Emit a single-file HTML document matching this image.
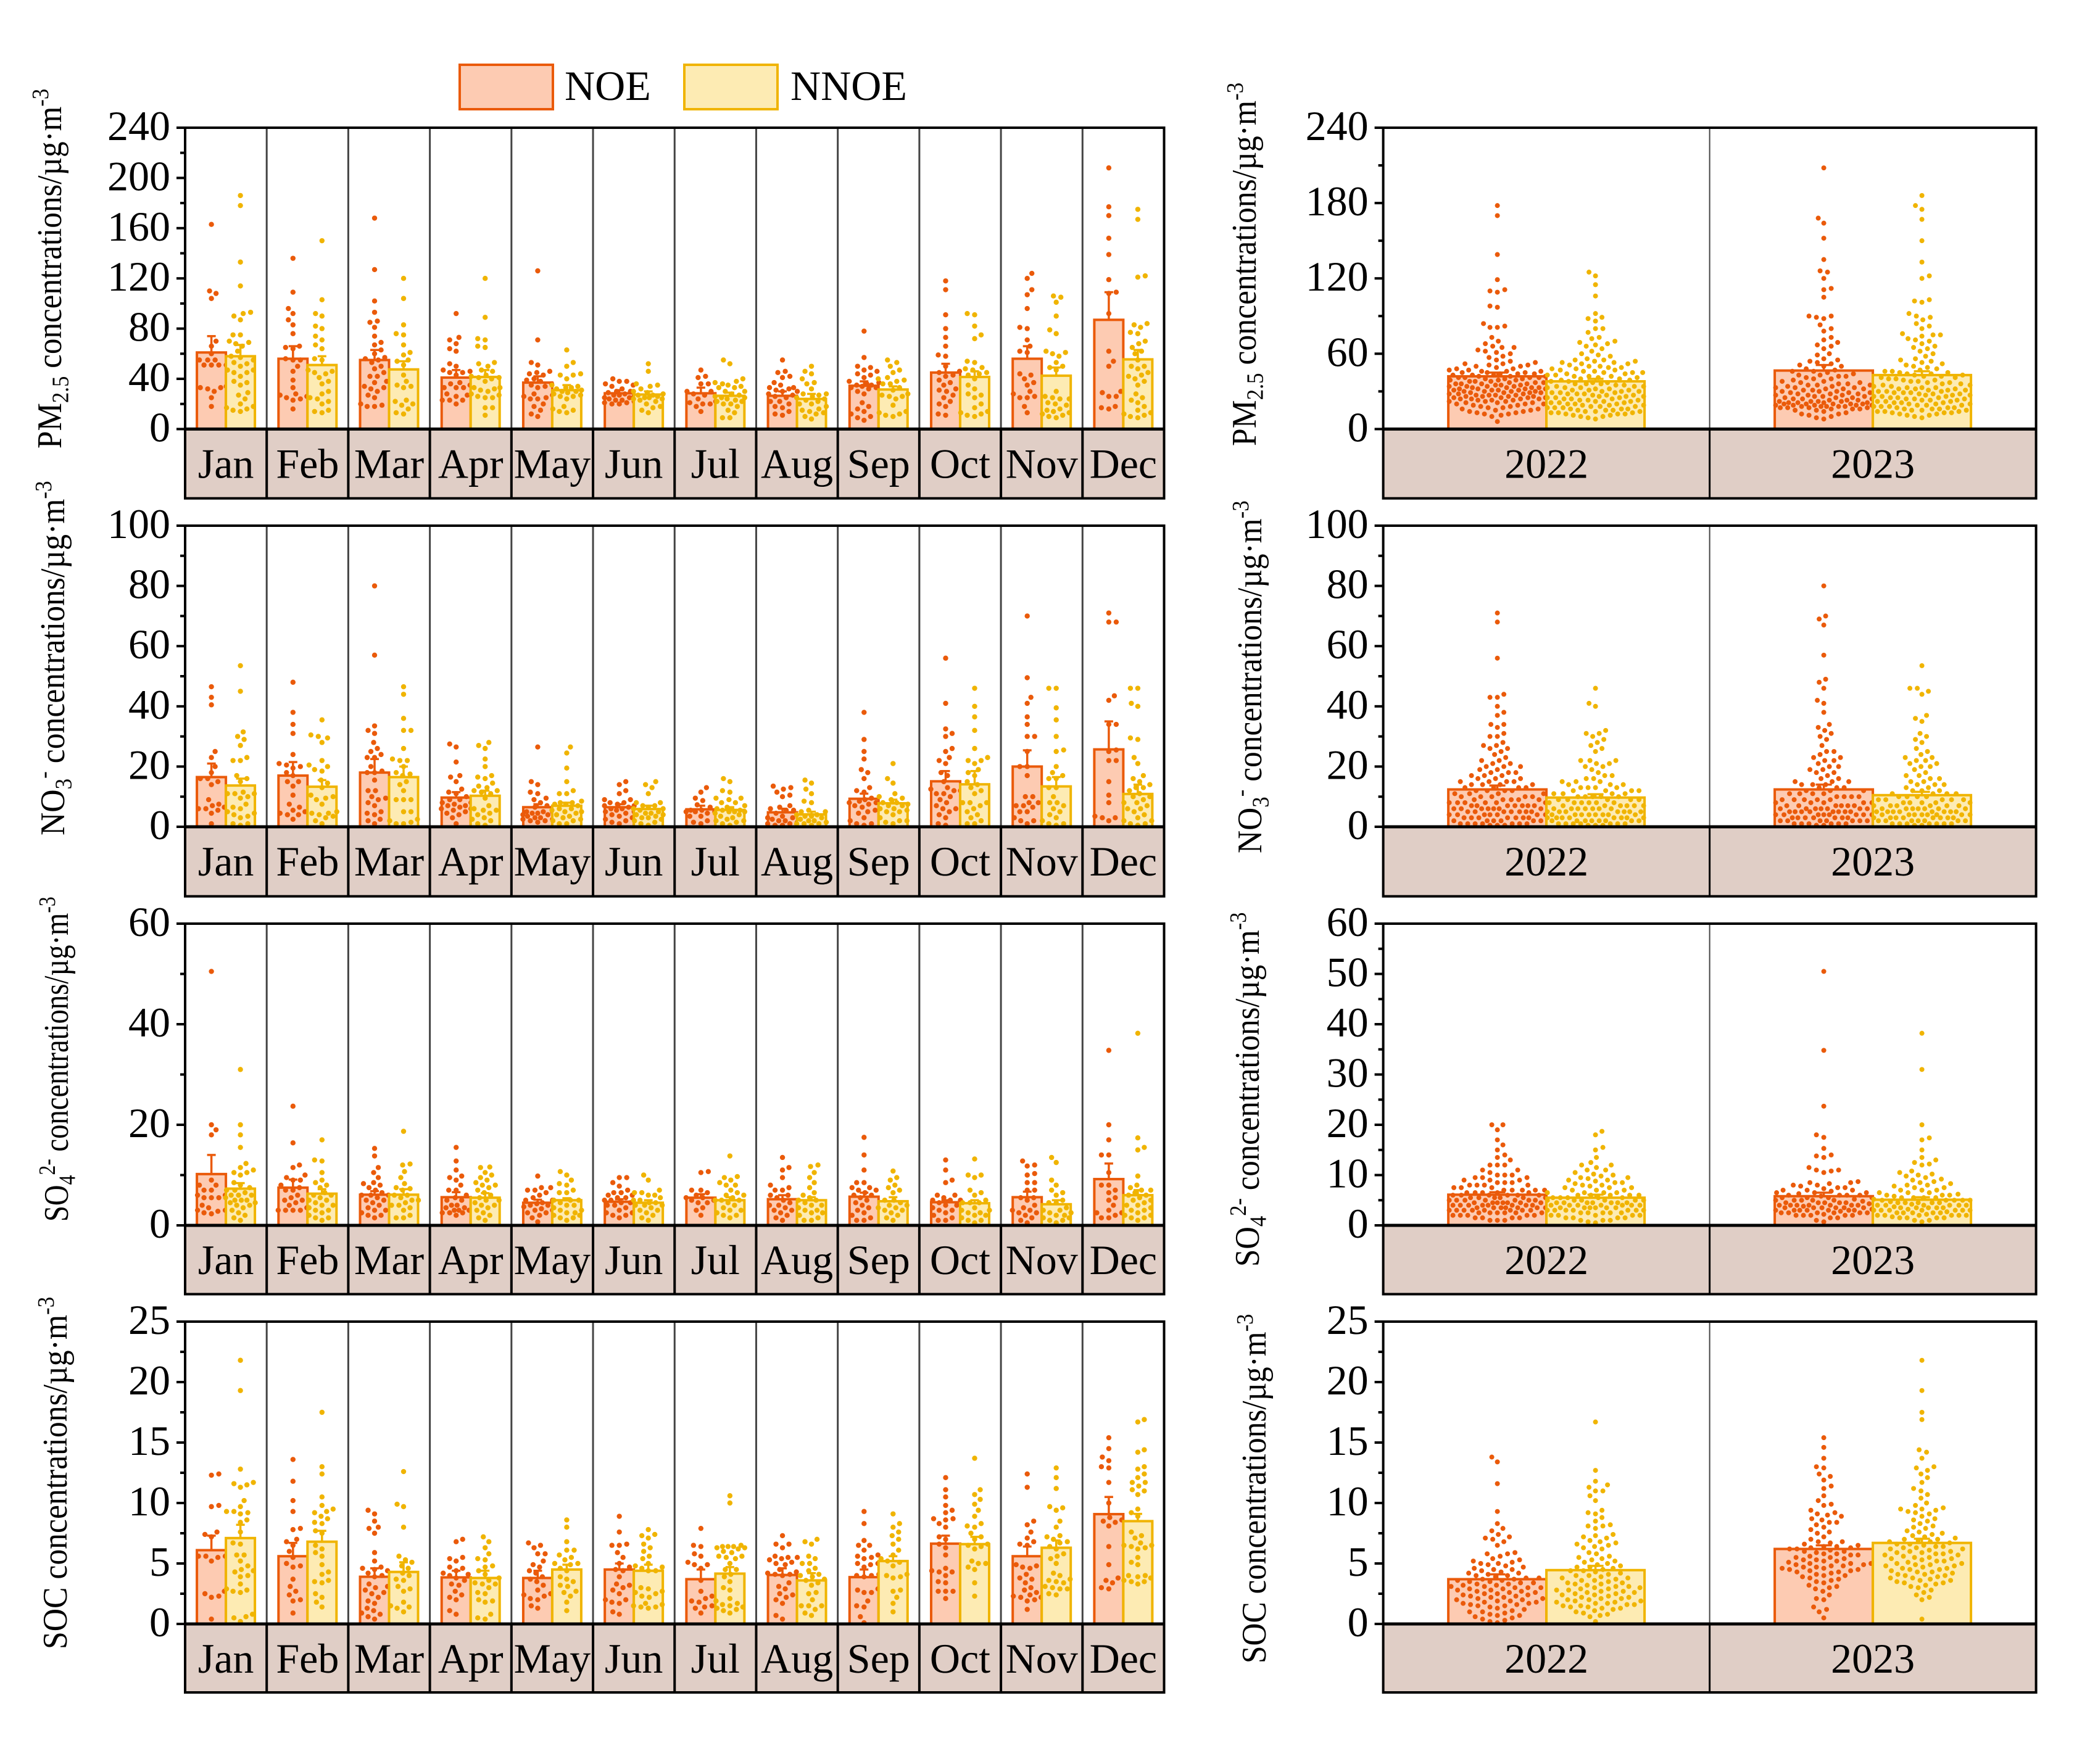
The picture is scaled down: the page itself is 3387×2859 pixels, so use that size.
<!DOCTYPE html>
<html lang="en">
<head>
<meta charset="utf-8">
<title>Concentrations by month and year</title>
<style>
html,body{margin:0;padding:0;background:#fff;}
svg{display:block;font-family:"Liberation Serif","DejaVu Serif",serif;}
.ytitle{font-size:53px;fill:#000;}
.leg{font-size:68px;fill:#000;}
</style>
</head>
<body>
<svg id="chart" xmlns="http://www.w3.org/2000/svg" width="3387" height="2859" viewBox="0 0 3387 2859">
<rect x="0" y="0" width="3387" height="2859" fill="#fff"/>
<g>
<rect x="745" y="105" width="151" height="72" fill="#fdcbb2" stroke="#ea5a0a" stroke-width="4"/>
<text class="leg" x="915" y="162">NOE</text>
<rect x="1109" y="105" width="151" height="72" fill="#fdebb3" stroke="#f0b400" stroke-width="4"/>
<text class="leg" x="1281" y="162">NNOE</text>
</g>
<text class="ytitle" transform="translate(99,727) rotate(-90) scale(.965,1.05)">PM<tspan font-size="36" dy="11">2.5</tspan><tspan dy="-11"> concentrations/µg·m</tspan><tspan font-size="36" dy="-20">-3</tspan></text>
<text class="ytitle" transform="translate(2035,723) rotate(-90) scale(.975,1.05)">PM<tspan font-size="36" dy="11">2.5</tspan><tspan dy="-11"> concentrations/µg·m</tspan><tspan font-size="36" dy="-20">-3</tspan></text>
<text class="ytitle" transform="translate(104,1354) rotate(-90) scale(.975,1.05)">NO<tspan font-size="36" dy="11">3</tspan><tspan font-size="36" dy="-31">-</tspan><tspan dy="20"> concentrations/µg·m</tspan><tspan font-size="36" dy="-20">-3</tspan></text>
<text class="ytitle" transform="translate(2044,1383) rotate(-90) scale(.97,1.05)">NO<tspan font-size="36" dy="11">3</tspan><tspan font-size="36" dy="-31">-</tspan><tspan dy="20"> concentrations/µg·m</tspan><tspan font-size="36" dy="-20">-3</tspan></text>
<text class="ytitle" transform="translate(110,1980) rotate(-90) scale(.88,1.05)">SO<tspan font-size="36" dy="11">4</tspan><tspan font-size="36" dy="-31">2-</tspan><tspan dy="20"> concentrations/µg·m</tspan><tspan font-size="36" dy="-20">-3</tspan></text>
<text class="ytitle" transform="translate(2040,2053) rotate(-90) scale(.96,1.05)">SO<tspan font-size="36" dy="11">4</tspan><tspan font-size="36" dy="-31">2-</tspan><tspan dy="20"> concentrations/µg·m</tspan><tspan font-size="36" dy="-20">-3</tspan></text>
<text class="ytitle" transform="translate(108,2673) rotate(-90) scale(.975,1.05)">SOC concentrations/µg·m<tspan font-size="36" dy="-20">-3</tspan></text>
<text class="ytitle" transform="translate(2051,2696) rotate(-90) scale(.967,1.05)">SOC concentrations/µg·m<tspan font-size="36" dy="-20">-3</tspan></text>
</svg>
<script>
const months=['Jan','Feb','Mar','Apr','May','Jun','Jul','Aug','Sep','Oct','Nov','Dec'];
const years=['2022','2023'];

// Axis ticks
const pm25MonthlyTicks=[0,40,80,120,160,200,240];
const pm25MonthlyMinor=[20,60,100,140,180,220];
const pm25YearlyTicks=[0,60,120,180,240];
const pm25YearlyMinor=[30,90,150,210];
const no3Ticks=[0,20,40,60,80,100];
const no3Minor=[10,30,50,70,90];
const so4MonthlyTicks=[0,20,40,60];
const so4MonthlyMinor=[10,30,50];
const so4YearlyTicks=[0,10,20,30,40,50,60];
const so4YearlyMinor=[5,15,25,35,45,55];
const socTicks=[0,5,10,15,20,25];
const socMinor=[2.5,7.5,12.5,17.5,22.5];

// Monthly bar means and upper error values
const pm25NoeMeans=[61,56,55,41,37,28.5,28.5,26.5,34.5,45,56,87];
const pm25NnoeMeans=[58,51,47.5,41.5,31,27.5,26.5,24,31.5,41.5,42.5,55.5];
const pm25NoeErr=[74,66,63,47,42,31,33,30,38,52,66,109];
const pm25NnoeErr=[67,58,54,47,35,30,29,28,34,46,49,63];
const no3NoeMeans=[16.5,17,18,9.7,6.5,6.5,5.8,4.8,9.3,15.1,20,25.7];
const no3NnoeMeans=[13.7,13.3,16.5,10.3,7,5.9,5.6,4.1,7.8,14.1,13.4,10.9];
const no3NoeErr=[21,21.5,22.5,11.5,7.5,7.5,7,6,11,18.5,25.4,35];
const no3NnoeErr=[16,15.5,20,12,8,7,6.5,5,9,18.5,16.5,14];
const so4NoeMeans=[10.2,7.5,6.1,5.6,4.5,4.7,5.5,5.2,5.7,4.6,5.6,9.2];
const so4NnoeMeans=[7.3,6.3,6.1,5.5,5,4.5,5,5,4.8,4.4,4.2,6];
const so4NoeErr=[14,9.1,6.8,6.6,5.1,5.2,6.2,6,6.5,5,6.7,12.3];
const so4NnoeErr=[8.4,7.2,7.2,6.4,5.4,5,5.6,5.6,5.6,5,5,7];
const socNoeMeans=[6.1,5.6,3.9,3.85,3.8,4.5,3.7,4.05,3.87,6.64,5.6,9.08];
const socNnoeMeans=[7.1,6.8,4.3,3.8,4.5,4.4,4.16,3.6,5.2,6.6,6.3,8.5];
const socNoeErr=[7.3,6.7,4.6,4.4,4.4,5,4.5,4.6,4.5,7.3,6.4,10.5];
const socNnoeErr=[8.2,7.7,5.1,4.4,4.9,4.9,4.7,4.2,5.6,7.2,6.9,9.1];

// Yearly bar means and upper error values
const pm25YearNoeMeans=[42,46.6];
const pm25YearNnoeMeans=[38,43];
const pm25YearNoeErr=[45,51];
const pm25YearNnoeErr=[40,46];
const no3YearNoeMeans=[12.4,12.4];
const no3YearNnoeMeans=[9.7,10.5];
const no3YearNoeErr=[13.7,14];
const no3YearNnoeErr=[10.8,11.6];
const so4YearNoeMeans=[6.1,5.8];
const so4YearNnoeMeans=[5.5,5.1];
const so4YearNoeErr=[6.6,6.5];
const so4YearNnoeErr=[6.1,5.6];
const socYearNoeMeans=[3.7,6.2];
const socYearNnoeMeans=[4.45,6.7];
const socYearNoeErr=[4.1,6.5];
const socYearNnoeErr=[4.8,7.05];

// Monthly scatter values
const pm25NoePoints=[
[163,110,108,104,70,66,60,55,55,55,51,51,51,51,34,33,33,32,30,25,18],
[136,109,96,92,87,83,76,66,65,64,56,55,55,50,46,39,33,28,27,26,25,24,23,16],
[168,127,102,93,86,85,81,74,69,67,63,60,57,56,55,53,50,48,45,42,42,38,37,34,33,32,30,27,25,20,19,18,18],
[92,73,71,68,64,62,52,50,47,46,45,45,43,37,36,35,33,33,33,28,27,26,23,23,23,20],
[126,71,53,51,46,45,44,43,40,39,38,36,35,34,33,28,27,26,25,24,24,20,18,15,12,10],
[40,38,38,36,35,34,32,30,30,29,28,27,27,26,25,25,24,23,23,22,21,21,20,20],
[47,42,41,36,36,30,30,28,27,24,22,21,20,20,18,14],
[55,46,45,42,41,37,35,33,33,32,31,30,30,28,27,26,25,22,22,20,18,17,14,12,11],
[78,57,50,49,47,46,44,43,41,38,37,36,35,35,34,33,33,32,30,28,21,18,16,14,12,10,9,7],
[118,111,91,80,73,66,59,58,50,46,45,43,42,39,37,35,32,31,30,27,25,22,20,18,12,11],
[124,120,111,107,96,81,80,71,66,62,61,44,43,40,37,35,30,28,26,25,25,18,13],
[208,177,170,152,139,119,108,109,92,62,54,50,30,29,26,18,17,16,26]];
const pm25NnoePoints=[
[186,178,133,114,93,92,90,87,75,75,70,69,68,66,62,58,57,55,53,52,50,47,47,45,45,42,38,37,35,29,27,24,20,18,17,16,15,14],
[150,103,92,90,82,80,74,71,67,64,56,55,47,46,45,44,41,38,36,30,28,25,24,22,20,15,14,13],
[120,104,83,76,75,67,61,59,55,54,51,43,38,35,34,33,23,22,20,19,16,13,12],
[120,89,72,71,66,65,53,52,50,47,46,43,42,41,41,40,38,33,33,32,31,30,28,27,26,25,25,17,17,11],
[63,53,50,44,43,43,40,35,34,33,33,32,31,30,30,29,28,27,26,26,24,18,16,15,14,13],
[52,46,36,35,34,32,30,29,28,27,27,26,25,25,24,24,23,22,20,18,17,15,13],
[55,52,40,38,37,36,35,34,33,33,30,30,28,27,26,25,25,24,23,22,22,20,20,18,15,13,9,9],
[50,46,44,40,37,36,32,28,28,27,26,25,24,23,22,20,20,18,16,15,14,13,12,10,8],
[55,53,50,47,45,41,40,39,38,36,36,33,31,28,27,26,26,24,19,14,13,12,11,10],
[92,91,82,75,72,54,53,49,48,47,45,44,43,40,35,32,28,27,25,20,17,14,13,12,11,10],
[106,105,101,90,79,76,62,61,60,58,53,50,49,47,30,25,26,24,24,21,20,19,16,15,14,13,12,11,10,9],
[175,167,122,121,84,83,81,77,76,70,68,65,62,60,55,50,50,48,45,43,42,40,38,35,28,25,23,21,18,15,13,12,11,10,9]];
const no3NoePoints=[
[46.5,43,40.5,25,23,20,18,16,16,15,14,9,7.5,7,6.5,6,6,5.5,4.5,1],
[48,38,34,31,24,21,20.5,20,19.5,18,17,15,15,13.5,10.5,7.5,6.5,5.5,5,4.5,4,4,2.5],
[80,57,33.5,32,31,28,26,25,24,23,23,20,18.5,18,18,15.5,12,12,10,9.5,9,8,7,5,4.5,4,2.5,2,1],
[27.5,26.5,21.5,17,16.5,15,12.5,11.5,11,10,9,9,8,8,7.5,7,7,6.5,6,6,5.5,5,4.5,4,3,1],
[26.5,15,14,11.5,11,9.5,9,8,7,6.5,5,5,5,4.5,4.5,4,4,3.5,3,3,2.5,2.5,2,2,1.5],
[15,14,12,11,9,9,8,8,7.5,7,7,6.5,6,6,5.5,5,5,4.5,4,3.5,3,2.5,2,1.5,1],
[13,11.5,9.5,8.7,7.3,6.5,5.5,5.5,5,5,4.5,5,3.5,3.5,2,1.5,1],
[13.5,13,12.5,11.5,10.5,10,7,6.5,6,5.5,5.5,4.5,3.5,3,3,2.5,2,2,1.5,1,1,0.5,0.5],
[38,29,25,22.5,19,18,16,13,12,11.5,9.5,9,8.5,8,8,7.5,7,6.5,5.5,5,4.5,3,2,1,1,0.5],
[56,41,32.5,31,30,26,25,23,22,21,18,17,15,13,12.5,12,12,11,11,10,9,8,7,6,6,5,4,3,1,0.5],
[70,49.5,43,41,36.5,34,30,30,25,20,20,17,10,10,8,8,7,7,6.5,5,5,3,2,2,1],
[71,68,68,43.5,42,34,34,25.5,25,22,22,15,10.5,8,3.5,3,3,2]];
const no3NnoePoints=[
[53.5,45,31.5,30,29,27,23,22,22,17,16,15,11.5,11,11,11,10,9.5,7.5,6.5,6,5,4.5,4,3.5,3,1,1,0.5],
[35.5,30.5,30,29.5,28,22,20.5,20,19,18.5,15.5,14.5,13,10.5,10,9.5,9,7.5,5,4.5,4.5,4,3.5,3,2,1],
[46.5,44,36,32,32,26,22.5,22,22,20,18,17.5,17,15,14,12,9,9,9,5,5,2.5,2,1.5,1,1],
[28,27,26,22.5,20,17,16.5,16,14.5,13.5,13,12,12,11.5,11,9.5,7,6,5.5,5.5,4.5,4,3,2.5,2,1,0.5],
[26.5,24.5,19.5,15,12,11,11,8.5,8,8,7.5,7.5,7,6,6,5.5,5,5,4.5,4,3.5,3,2.5,2,2,1,1],
[15,14,13,11,8,8,7,7,6.5,6,6,5.5,5,4.5,4.5,4,4,3.5,3,3,2.5,2,1.5,1,0.5],
[16,15,12,11.5,9.5,9.5,9,8,8,7,6.5,6,6,5.5,5.5,5,5,5,4.5,4,3.5,3,2.5,2,2,1.5,1,0.5],
[15.5,14.5,12.5,11,8.5,8,5.5,5,5,4,4,3.5,3.5,3,2.5,2,2,1.5,1,1,1,0.5],
[21,16,14.5,11,10,9.5,9,8,8,7.5,7,7,6,6,5.5,5,5,4,3,2,2,1.5,1],
[46,40,36.5,32,26,23,22,22,21,19,18,17,15,14,13,12,11,8,8,8,7,6,5,4,3,2,1,1],
[46,46,39.5,35.5,30,25.5,25,20,18,17,16,16,13,13,10,8,8,7,6,5,4,3,2,1,1,0.5],
[46,46,41,40,29.5,29,23,21,17,16,15,14,13,13,12,11,10,10,9,8,8,7,6,6,5,4,3,2,2,1,1,0.5]];
const so4NoePoints=[
[50.5,20,19,18,9,8,8,7,7,6,6,5.5,5.5,5.5,4,3.5,3,3,2.8,2.5,2.3],
[23.7,16.4,12,11.5,10,9.5,9,9,8,7.5,7,7,6,5.5,5,5,4.5,4,3.5,3,3,3,3],
[15.3,13.8,11.5,10.5,9.5,8.5,8.3,8,7.5,7,6.5,6,6,6,5.5,5,5,4.5,4,3.5,3,3,2.5,2,2,1.5],
[15.5,12.8,11,9.8,9.5,9,8,7,7,6,5.5,5,5,4,4,3.5,3.5,3,3,3,2.5,2.5,2.5,2],
[9.8,7.5,7.5,7,7,6.5,6,5.5,5,5,4.5,4.3,4,4,3.7,3.3,3,3,2.5,2.5,2,1.5,0.7],
[9.5,9.5,8.5,7.8,7,6.5,6.5,6,6,5.5,5.5,5,5,4.5,4.5,4,4,3.5,3,2.5,2.5,2,2,1.5],
[10.7,10.5,7,7,6.5,6,5.5,5.5,5,5,4.5,4.5,3.5,3,2],
[13.5,11.5,11,9.5,8,7.5,7,7,6,6,5.5,5,4.5,4,4,3.5,3,3,2.5,2,1.5,1],
[17.5,14,11,8.5,8.5,7.5,7.5,7,7,6.5,6,6,5.5,5,4.5,4,3.5,3,2.5,2,1.5,1,1],
[13,11,9,8.5,6,6,5.5,5,5,5,4.5,4,4,3.5,3,3,2.5,2,1.5,1,1],
[12.8,12,11.8,10.3,10,8.5,8.5,7,7,5.5,5.5,5,4,3.5,3,3,2.5,2.5,2,1.5,1,0.5],
[34.8,20,17,14,14,10.5,8,8,7,6.5,5.5,5,4,3,2.5,2.5,2,1.5,1.5]];
const so4NnoePoints=[
[31,20,18,15.5,12.3,11.5,11,10.5,10.5,10,8.5,8,7.5,7,7,6.5,6,6,6,5.5,5,5,5,4.5,4.5,4,4,3.5,3,2.5,2,1.5,1],
[17,13,12.8,10.5,9,8.5,8,7.5,6.5,6,6,5.5,5,5,4.5,4,4,3.5,3,3,2.5,2,1.5,1.5,1],
[18.7,12.2,12,10.7,9.5,8.3,7.5,7.3,7,6,6,5.5,5,5,4.5,4,4,3.5,3,2,1.5,1.5],
[11.6,11.5,10.5,10,9.5,9,8.5,8,8,7.5,7,6.5,6,5.5,5,5,4.5,4,4,3.5,3,2.5,2,1.5,1],
[10.7,10,9,8.3,8,7,6.5,6.5,5,5,5,4.5,4,4,3.5,3,3,2.5,2.5,2,2,1.5,1.5,1],
[10,9,7,6.5,6.5,6,6,5.5,5,5,4.5,4.5,4,4,4,3.5,3,3,2.5,2,1.5,1],
[13.8,9.7,9.5,9,8.5,8,8,7,6.5,6,6,5.5,5,5,5,4.5,4,3.5,3,3,2.5,2,2,1.5],
[12,11.7,10.5,9.5,8.5,7.5,6.5,6,5.5,5,5,4.5,4,4,3.5,3,3,2.5,2.5,2,1.5,1,1],
[10.8,9.5,9,8,7.5,7,6.5,5,5,4.5,4,4,3.5,3.5,3,3,2.5,2,1.5,1],
[13.2,10,10,9.5,7,6.5,6,5,4.5,4.5,4.5,3.5,3,3,2.5,2.5,2,2,1.5,1,1,0.5],
[13.5,12.5,9,8,7,6.5,6,5,4.5,4.5,3.5,3,3,2.5,2.5,2,2,1.5,1.5,1,1,0.5],
[38.2,17.4,15.5,15,9.8,8,7.5,7,7,6.5,6,6,5.5,5,5,4.5,4,4,3.5,3,3,2.5,2,2,1.5,1.5,1]];
const socNoePoints=[
[12.4,12.3,9.8,9.7,7.6,7.4,7.2,5.6,5.6,5.6,5.5,5.2,2.7,2.5,2.3,2.2,0.4],
[13.6,11.8,10.2,9.3,7.9,7.8,7,6.8,6.5,6,5.5,5,4.8,4.7,3.7,3.1,2.7,2.4,2,1.9,0.9],
[9.4,9.1,8.5,8,7.9,7.5,5.9,5.2,4.7,4.6,4.5,4.4,4.2,4,3.9,3.3,3.1,3,2.8,2.6,2.5,2.2,1.9,1.7,1.3,1.1,0.9,0.8,0.6,0.4],
[7,6.8,5.5,5.4,5.2,4.7,4.6,4.4,4.2,4.1,4,3.8,3.6,3.3,3.2,2.7,2.4,2.2,2,1.1,0.8],
[6.7,6.5,6.3,5.8,5.8,5.2,4.9,4.7,4.4,4.2,3.9,3.7,3.5,3.2,2.8,2.5,2.4,2.3,2.1,2,1.5,1.3],
[8.9,7.6,6.6,6.5,6.5,5.9,5.5,5,4.7,4.5,4.4,3.9,3.3,3.2,3,2.8,2.5,2,2,1.8,1.7,1,0.8],
[7.9,6.5,6.4,5.8,5.6,5.1,4.9,4.9,4.6,3.6,2.7,2.3,2.1,1.9,1.8,1.5,1.4,1.3,0.9],
[7.3,6.6,6.6,6.3,5.6,5.5,5.5,5.4,5.3,5.1,5,4.9,4.5,4.3,4.2,4.1,4.1,4,3.4,3.1,2.9,2.5,2.4,2.2,2,1.7,0.7,0.4],
[9.3,8.3,6.9,6.5,6.5,6.1,5.7,5.6,5.5,5.4,5,5,4.9,4.7,4.1,4,4,3.9,2.9,2.8,2.6,2.6,1.9,1.5,1.4,0.6,0.1],
[12.1,11.1,10.5,9.8,9.4,9.2,8.7,8.7,8.6,8.3,8,7.2,7,6.6,6.3,5.7,4.6,4.4,4.3,4.3,4,3.5,3.4,2.7,2.7,2.7,2.1],
[12.4,11.3,8.5,8.2,7.6,7.1,6.8,6.6,6.5,4.9,4.8,4.7,4.6,4.1,3.8,3.7,3.4,3,2.8,2.6,2.4,2.3,2.2,2.2,2,1.9,1.2],
[15.4,14.5,13.8,13.5,13,12.9,11.7,10,8.8,8.6,8.5,8.4,8.1,6.4,4.9,3.8,3.6,3.4,3,2.9]];
const socNnoePoints=[
[21.8,19.3,12.8,11.7,11.6,11.5,11.3,10.2,9.7,9.3,9.3,9.2,9.1,8.6,8.4,7.6,6.7,6.6,5.7,5.7,5.2,4.8,4.5,4.4,4.3,4,3.9,3.3,2.9,2.8,2.7,2.6,0.8,0.6,0.5,0.2],
[17.5,13,12.4,10.5,9.8,9.5,9.3,9.2,8.9,8.7,8.4,8.3,7.7,7.5,6.5,6.2,5.9,5.6,4.9,4.3,4.1,3.6,3.5,3.4,2.5,2.2,1.8,1.4],
[12.6,9.9,9.7,8,5.6,5.3,5.1,4.8,4.6,4.2,4,3.7,3.6,3.1,2.9,2.7,1.8,1.5,1.4,1.3,1],
[7.2,6.8,6.3,5.8,5.4,5.3,4.8,4.7,4.4,4.1,3.8,3.6,3.4,3.3,3.3,3,2.6,2.5,2,1.9,1.8,0.8,0.5,0.4],
[8.6,8,6.8,6.1,6.1,5.7,5.5,5.3,5,5,4.9,4.6,4.4,3.9,3.7,3.5,3.2,3.1,2.7,2.6,2.3,1.8,1.1],
[7.8,7.4,7.3,7.1,6.6,6.3,6,5.6,5.4,5,4.8,4.7,4.6,4.4,4.4,3,2.9,2.7,2.6,2.5,2.3,2.2,1.7,1.6,1.5,1.4,1.4,1.3],
[10.6,10,6.5,6.4,6.4,6.4,6.3,6.3,6.2,6,5.9,5.6,5.6,5.5,5.4,5,4.5,4.5,4.1,3.9,3.5,3,2.8,2.1,1.9,1.7,1.6,1.5,1.4,1.3,1.2,1.1,0.9],
[7,6.8,6.6,5.6,5.4,5,5,4.6,4.4,4.1,4,3.9,3.7,3.6,3.4,3.2,2.6,2.5,2,1.5,1.5,1.5,1.2,0.9,0.7],
[9.1,8.3,8,7.6,7.3,7,6.6,6.1,5.7,5.4,5.2,5.1,4.8,4.1,4,3.9,3.8,2.8,2.7,2.2,1.7,1],
[13.7,11.1,10.7,10.3,9.9,9.4,8.9,8.3,8.1,8,7.5,7.2,7,6.6,6.5,6.4,6.2,5.2,5,5,4.7,4.5,3.4,2.3],
[12.9,12.1,11.2,9.7,9.6,9.4,8.5,8,7.3,7.2,7,6.8,6.7,6.4,6.2,5.8,5.6,5.4,5,4.2,4,3.7,3.6,3.5,3.4,3.1,3,2.9,2.9,2.5,2.4],
[16.9,16.7,14.4,14.2,13,12.8,12.4,12.1,11.7,11.7,11.4,11.1,11,10.7,9.5,9.2,8.9,7.6,7.3,7.1,6.7,6.5,6.5,6.4,6.3,6.2,5.5,5.1,4.9,4,4,3.9,3.8,3.6,3.5,3.5,3.3]];

// Yearly scatter values
const pm25YearNoePoints=[
[178,170,139,119,111,110,109,98,97,84,82,81,81,73,70,68,66,65,65,63,62,61,60,58,57,55,54,53,52,52,51,51,50,50,49,48,48,47,47,46,46,46,45,45,45,44,44,44,43,43,43,42,42,42,41,41,41,41,40,40,40,39,39,39,38,38,38,37,37,37,36,36,36,36,35,35,35,34,34,34,34,33,33,33,33,32,32,32,32,31,31,31,31,30,30,30,30,29,29,29,29,28,28,28,27,27,27,27,26,26,26,26,25,25,25,25,24,24,24,24,23,23,23,22,22,22,21,21,21,20,20,20,19,19,18,18,17,17,16,16,15,15,14,14,13,13,12,12,11,10,6],
[208,168,164,152,135,126,125,120,112,111,105,90,90,89,88,83,80,78,73,71,69,67,66,64,60,59,56,55,54,53,52,51,50,50,48,47,46,46,45,44,43,43,42,42,41,40,40,39,38,38,37,37,36,36,35,35,35,34,34,33,33,33,32,32,32,31,31,30,30,30,29,29,29,28,28,28,27,27,27,26,26,26,25,25,25,24,24,24,23,23,23,22,22,22,22,21,21,21,21,20,20,20,20,20,19,19,19,19,19,18,18,18,18,18,17,17,17,17,16,16,16,15,15,14,13,12,12,11,10,9,8]];
const pm25YearNnoePoints=[
[125,122,115,106,92,89,88,86,80,80,77,73,72,70,69,68,67,66,64,62,60,59,58,56,55,55,54,54,53,53,52,52,51,50,50,49,49,48,48,47,47,46,46,45,45,45,44,44,43,43,42,42,42,41,41,40,40,39,39,38,38,37,37,36,36,36,35,35,34,34,34,33,33,33,32,32,31,31,31,30,30,30,29,29,29,28,28,28,27,27,27,26,26,26,25,25,25,24,24,24,23,23,23,22,22,22,21,21,21,20,20,20,19,19,19,18,18,18,17,17,17,16,16,16,15,15,15,14,14,14,13,13,13,12,12,12,11,11,10,10,9,8],
[186,178,175,167,150,133,122,120,103,102,101,92,90,89,87,84,82,80,76,75,75,74,72,71,70,68,66,65,64,62,60,58,56,55,54,53,52,51,50,49,48,47,46,46,45,45,44,44,43,43,42,42,41,41,40,40,39,39,38,38,37,37,36,36,35,35,34,34,33,33,33,32,32,32,31,31,31,30,30,30,29,29,29,28,28,28,27,27,27,26,26,26,25,25,25,24,24,24,23,23,23,22,22,22,21,21,21,20,20,20,19,19,19,18,18,18,17,17,17,16,16,16,15,15,15,14,14,14,13,13,13,12,12,11,11,10,9]];
const no3YearNoePoints=[
[71,68,56,44,43,43,40,38,37,34,34,33,31,30,30,28,27,27,26,26,25,24,23,22,22,21,21,20,20,20,19,19,18,18,18,17,17,17,16,16,16,15,15,15,15,14,14,14,14,13,13,13,13,12,12,12,12,11,11,11,11,10,10,10,10,10,9,9,9,9,9,8,8,8,8,8,8,7,7,7,7,7,7,7,6,6,6,6,6,6,6,5,5,5,5,5,5,5,4,4,4,4,4,4,4,3,3,3,3,3,3,3,2,2,2,2,2,2,1,1,1,1,1,1,1,0.5,0.5,0.5],
[80,70,69,67,57,49,48,46,42,41,38,34,33,32,31,30,29,27,25,25,24,23,23,22,22,21,20,20,19,19,18,18,17,16,16,15,15,15,14,14,14,13,13,13,12,12,12,11,11,11,11,10,10,10,10,9,9,9,9,9,8,8,8,8,8,7,7,7,7,7,7,6,6,6,6,6,6,6,5,5,5,5,5,5,5,5,4,4,4,4,4,4,4,4,3,3,3,3,3,3,3,2,2,2,2,2,2,2,1,1,1,1,1,1,0.5,0.5]];
const no3YearNnoePoints=[
[46,41,40,32,31,31,30,29,28,27,26,25,22,22,22,21,21,20,20,19,18,17,17,16,16,15,15,15,14,14,14,13,13,13,13,12,12,12,12,11,11,11,11,10,10,10,10,10,9,9,9,9,9,8,8,8,8,8,8,7,7,7,7,7,7,6,6,6,6,6,6,6,5,5,5,5,5,5,5,4,4,4,4,4,4,4,4,3,3,3,3,3,3,3,3,2,2,2,2,2,2,2,2,1,1,1,1,1,1,1,0.5,0.5,0.5],
[53.5,46,46,45,44,37,36,35,31,30,29,28,26,25,24,23,23,22,22,21,21,20,20,19,18,17,17,16,16,15,15,14,14,14,13,13,12,12,12,11,11,11,11,10,10,10,10,9,9,9,9,9,8,8,8,8,8,7,7,7,7,7,7,6,6,6,6,6,6,6,5,5,5,5,5,5,5,5,4,4,4,4,4,4,4,4,3,3,3,3,3,3,3,3,2,2,2,2,2,2,2,1,1,1,1,1,1,1,0.5,0.5]];
const so4YearNoePoints=[
[20,20,19,17,16,15,14,13.5,13,12,12,12,11,11,10.5,10,10,10,9.5,9.5,9.5,9,9,9,8.5,8.5,8.5,8,8,8,8,7.5,7.5,7.5,7,7,7,7,7,6.5,6.5,6.5,6.5,6.5,6,6,6,6,6,6,5.5,5.5,5.5,5.5,5.5,5.5,5,5,5,5,5,5,5,4.5,4.5,4.5,4.5,4.5,4.5,4.5,4,4,4,4,4,4,4,4,3.5,3.5,3.5,3.5,3.5,3.5,3.5,3,3,3,3,3,3,3,3,2.5,2.5,2.5,2.5,2.5,2.5,2,2,2,2,2,1.5,1.5,1.5,1.5,1,1,1],
[50.5,34.8,23.7,18,17.5,15.3,14,13.8,13.5,11.5,11,11,10.8,10.5,8.7,8.5,8.5,8.3,8,8,7.8,7.5,7.5,7.3,7,7,7,6.8,6.5,6.5,6.5,6.3,6,6,6,6,5.8,5.5,5.5,5.5,5.5,5.2,5,5,5,5,5,4.8,4.5,4.5,4.5,4.5,4.5,4.3,4,4,4,4,4,4,4,3.8,3.5,3.5,3.5,3.5,3.5,3.5,3.2,3,3,3,3,3,3,3,2.8,2.5,2.5,2.5,2.5,2.5,2.5,2.2,2,2,2,2,2,1.5,1.5,1,0.7]];
const so4YearNnoePoints=[
[18.7,18,15.5,15,13.5,12.5,12,12,11.5,11,11,10.5,10.2,10,9.8,9.5,9.5,9.3,9,9,8.8,8.5,8.5,8.3,8,8,7.8,7.5,7.5,7.5,7,7,7,6.5,6.5,6.5,6.5,6,6,6,6,6,5.5,5.5,5.5,5.5,5.5,5,5,5,5,5,5,4.5,4.5,4.5,4.5,4.5,4.5,4.5,4,4,4,4,4,4,4,3.5,3.5,3.5,3.5,3.5,3.5,3,3,3,3,3,3,3,2.5,2.5,2.5,2.5,2.5,2,2,2,2,2,1.5,1.5,1.5,1.5,1,1,1,0.7,0.5],
[38.2,31,20,17.4,17,15,13.5,13,12.5,12.2,12,10.8,10.5,10.2,10,9.8,9.5,9.2,9,8.7,8.5,8.3,8,8,7.8,7.5,7.5,7,7,7,6.5,6.5,6.5,6.2,6,6,6,5.8,5.5,5.5,5.5,5.5,5.2,5,5,5,5,5,4.7,4.5,4.5,4.5,4.5,4.5,4.2,4,4,4,4,4,4,3.7,3.5,3.5,3.5,3.5,3.5,3.2,3,3,3,3,3,3,3,2.7,2.5,2.5,2.5,2.5,2.5,2.2,2,2,2,2,2,2,1.7,1.5,1.5,1.5,1.5,1,1,0.7]];
const socYearNoePoints=[
[13.8,13.4,11.6,9.3,8.3,7.9,7.7,7.4,7.2,7.1,7,6.8,6.5,5.9,5.8,5.8,5.6,5.4,5.3,5.2,5.1,5,5,4.9,4.8,4.7,4.6,4.5,4.5,4.4,4.3,4.2,4.2,4.1,4,4,3.9,3.8,3.8,3.7,3.7,3.6,3.6,3.5,3.5,3.4,3.4,3.3,3.3,3.2,3.2,3.1,3.1,3,3,3,2.9,2.9,2.8,2.8,2.7,2.7,2.6,2.6,2.5,2.5,2.4,2.4,2.3,2.3,2.2,2.2,2.1,2.1,2,2,1.9,1.9,1.8,1.8,1.7,1.7,1.6,1.6,1.5,1.5,1.4,1.3,1.2,1.1,1,1,0.9,0.8,0.7,0.7,0.6,0.5,0.4,0.3,0.2,0.1],
[15.4,14.6,13.7,13,12.9,12.4,12.2,11.9,11.4,11.2,10.6,10.2,9.9,9.8,9.4,9.2,9.1,9,8.9,8.7,8.6,8.4,8.4,8.2,8,7.8,7.6,7.5,7.2,7,6.8,6.8,6.7,6.6,6.5,6.4,6.4,6.3,6.3,6.2,6.2,6.1,6,6,5.9,5.8,5.8,5.7,5.7,5.6,5.5,5.5,5.4,5.3,5.3,5.2,5.2,5.1,5,5,5,4.9,4.9,4.8,4.8,4.7,4.7,4.6,4.6,4.5,4.5,4.4,4.4,4.3,4.3,4.2,4.1,4,4,3.9,3.8,3.7,3.6,3.5,3.4,3.2,3.1,3,2.9,2.7,2.4,2.1,2,1.4,1.2,1,0.5]];
const socYearNnoePoints=[
[16.7,12.7,11.8,11.5,11.3,11,11,10.6,10.2,9.4,9.2,9.1,8.8,8.5,8.2,8.1,8.1,7.9,7.4,7.3,7.2,7.1,6.9,6.8,6.7,6.6,6.5,6.4,6.3,6.2,5.9,5.8,5.6,5.5,5.4,5.3,5.2,5.1,5,4.9,4.8,4.7,4.7,4.6,4.5,4.4,4.4,4.3,4.2,4.1,4,4,3.9,3.8,3.8,3.7,3.6,3.6,3.5,3.4,3.4,3.3,3.3,3.2,3.1,3.1,3,3,2.9,2.9,2.8,2.8,2.7,2.7,2.6,2.6,2.5,2.5,2.4,2.4,2.3,2.2,2.2,2.1,2.1,2,2,1.9,1.9,1.8,1.8,1.7,1.7,1.6,1.6,1.5,1.5,1.4,1.4,1.3,1.3,1.2,1.1,1,0.9,0.8,0.7,0.6,0.2],
[21.8,19.3,17.5,16.9,14.4,14.2,13.7,13,12.9,12.7,12.4,12.1,11.7,11.2,11,10.7,10.4,10,9.8,9.6,9.5,9.5,9.4,9.3,9.2,9.1,8.9,8.7,8.6,8.5,8.3,8.1,8,7.9,7.7,7.6,7.5,7.4,7.3,7.2,7.1,7,7,6.9,6.8,6.8,6.7,6.6,6.6,6.5,6.4,6.4,6.3,6.3,6.2,6.2,6.1,6,6,5.9,5.9,5.8,5.8,5.7,5.7,5.6,5.5,5.5,5.4,5.4,5.3,5.2,5.2,5.1,5,5,4.9,4.9,4.8,4.8,4.7,4.6,4.6,4.5,4.5,4.4,4.3,4.3,4.2,4.1,4.1,4,4,3.9,3.8,3.8,3.7,3.6,3.6,3.5,3.4,3.4,3.3,3.2,3.1,3,2.8,2.6,2.4,2.2,2,0.4]];

const NS='http://www.w3.org/2000/svg';
const chart=document.getElementById('chart');
const NOE={key:'noe',fill:'#fdcbb2',stroke:'#ea5a0a'};
const NNOE={key:'nnoe',fill:'#fdebb3',stroke:'#f0b400'};

function mk(tag,attrs,parent){
  const el=document.createElementNS(NS,tag);
  for(const k in attrs){el.setAttribute(k,attrs[k]);}
  parent.appendChild(el);
  return el;
}

// Packs values around a centre line, lowest values first, so dots do not overlap.
function swarm(values,cx,halfWidth,minDist,y){
  const sorted=values.slice().sort(function(a,b){return a-b;});
  const placed=[];
  sorted.forEach(function(v,i){
    const py=y(v);
    const sign=i%2===0?1:-1;
    let bestX=cx,bestGap=-1,found=false;
    for(let k=0;!found&&k<=2*Math.ceil(halfWidth/1.5);k++){
      const step=Math.ceil(k/2)*1.5*(k%2===0?-sign:sign);
      const px=cx+step;
      let gap=Infinity;
      placed.forEach(function(p){
        gap=Math.min(gap,Math.hypot(p.x-px,p.y-py));
      });
      if(gap>bestGap){bestGap=gap;bestX=px;}
      if(gap>=minDist){found=true;}
    }
    placed.push({x:bestX,y:py});
  });
  return placed;
}

function drawSeries(g,label,series,cx,width,mean,err,points,y,base,capW,dotR,halfSpread,minDist){
  const bar=mk('rect',{x:cx-width/2,y:y(mean),width:width,height:base-y(mean),fill:series.fill,stroke:series.stroke,'stroke-width':4},g);
  
  
  const whisker=mk('line',{x1:cx,x2:cx,y1:y(mean),y2:y(err),stroke:series.stroke,'stroke-width':3.5},g);
  
  
  const cap=mk('line',{x1:cx-capW/2,x2:cx+capW/2,y1:y(err),y2:y(err),stroke:series.stroke,'stroke-width':3.5},g);
  
  
  swarm(points,cx,halfSpread,minDist,y).forEach(function(p){
    const dot=mk('circle',{cx:p.x,cy:p.y,r:dotR,fill:series.stroke},g);
    
    
  });
}

function drawPanel(o){
  const g=mk('g',{},chart);
  
  
  const y=function(v){return o.base-v/o.max*(o.base-o.top);};
  const n=o.cats.length;
  const cw=(o.x1-o.x0)/n;
  const plotBg=mk('rect',{x:o.x0,y:o.top,width:o.x1-o.x0,height:o.base-o.top,fill:'#fff'},g);
  
  
  const strip=mk('rect',{x:o.x0,y:o.base,width:o.x1-o.x0,height:o.bottom-o.base,fill:'#e0cec6'},g);
  
  

  o.cats.forEach(function(cat,i){
    const c=o.x0+cw*(i+0.5);
    const b=o.barW;
    drawSeries(g,o.name+'-'+cat+'-noe',NOE,c-b/2,b,o.noeMeans[i],o.noeErr[i],o.noePts[i],y,o.base,o.capW,o.dotR,o.spread,o.minDist);
    drawSeries(g,o.name+'-'+cat+'-nnoe',NNOE,c+b/2,b,o.nnoeMeans[i],o.nnoeErr[i],o.nnoePts[i],y,o.base,o.capW,o.dotR,o.spread,o.minDist);
    const lab=mk('text',{x:c,y:o.base+79,'text-anchor':'middle','font-size':68,fill:'#000'},g);
    lab.textContent=cat;
    
    
  });

  for(let i=1;i<n;i++){
    const sx=o.x0+cw*i;
    const sepTop=mk('line',{x1:sx,x2:sx,y1:o.top,y2:o.base,stroke:'#444','stroke-width':o.sepW},g);
    
    
    const sepBot=mk('line',{x1:sx,x2:sx,y1:o.base,y2:o.bottom,stroke:'#000','stroke-width':o.stripSepW},g);
    
    
  }

  const frame=mk('rect',{x:o.x0,y:o.top,width:o.x1-o.x0,height:o.bottom-o.top,fill:'none',stroke:'#000','stroke-width':4},g);
  
  
  const baseLine=mk('line',{x1:o.x0,x2:o.x1,y1:o.base,y2:o.base,stroke:'#000','stroke-width':5},g);
  
  

  o.ticks.forEach(function(t){
    const tick=mk('line',{x1:o.x0-14,x2:o.x0,y1:y(t),y2:y(t),stroke:'#000','stroke-width':4},g);
    
    
    const tl=mk('text',{x:o.x0-24,y:y(t)+20,'text-anchor':'end','font-size':68,fill:'#000'},g);
    tl.textContent=String(t);
    
    
  });
  o.minor.forEach(function(t){
    const tick=mk('line',{x1:o.x0-8,x2:o.x0,y1:y(t),y2:y(t),stroke:'#000','stroke-width':4},g);
    
    
  });
}

function monthly(name,top,base,bottom,max,ticks,minor,noeMeans,nnoeMeans,noeErr,nnoeErr,noePts,nnoePts){
  drawPanel({name:name+'-monthly',x0:300,x1:1886.5,top:top,base:base,bottom:bottom,max:max,ticks:ticks,minor:minor,cats:months,
    noeMeans:noeMeans,nnoeMeans:nnoeMeans,noeErr:noeErr,nnoeErr:nnoeErr,noePts:noePts,nnoePts:nnoePts,
    barW:47,capW:14,dotR:4.2,spread:24,minDist:11,sepW:3,stripSepW:4});
}
function yearly(name,top,base,bottom,max,ticks,minor,noeMeans,nnoeMeans,noeErr,nnoeErr,noePts,nnoePts){
  drawPanel({name:name+'-yearly',x0:2241.6,x1:3299.6,top:top,base:base,bottom:bottom,max:max,ticks:ticks,minor:minor,cats:years,
    noeMeans:noeMeans,nnoeMeans:nnoeMeans,noeErr:noeErr,nnoeErr:nnoeErr,noePts:noePts,nnoePts:nnoePts,
    barW:159,capW:26,dotR:4,spread:78,minDist:11.5,sepW:2,stripSepW:3});
}

monthly('pm25',207,695.4,807.7,240,pm25MonthlyTicks,pm25MonthlyMinor,pm25NoeMeans,pm25NnoeMeans,pm25NoeErr,pm25NnoeErr,pm25NoePoints,pm25NnoePoints);
monthly('no3',852,1340,1452.7,100,no3Ticks,no3Minor,no3NoeMeans,no3NnoeMeans,no3NoeErr,no3NnoeErr,no3NoePoints,no3NnoePoints);
monthly('so4',1497,1986,2097.5,60,so4MonthlyTicks,so4MonthlyMinor,so4NoeMeans,so4NnoeMeans,so4NoeErr,so4NnoeErr,so4NoePoints,so4NnoePoints);
monthly('soc',2142,2632,2743,25,socTicks,socMinor,socNoeMeans,socNnoeMeans,socNoeErr,socNnoeErr,socNoePoints,socNnoePoints);

yearly('pm25',207,695.4,807.7,240,pm25YearlyTicks,pm25YearlyMinor,pm25YearNoeMeans,pm25YearNnoeMeans,pm25YearNoeErr,pm25YearNnoeErr,pm25YearNoePoints,pm25YearNnoePoints);
yearly('no3',852,1340,1452.7,100,no3Ticks,no3Minor,no3YearNoeMeans,no3YearNnoeMeans,no3YearNoeErr,no3YearNnoeErr,no3YearNoePoints,no3YearNnoePoints);
yearly('so4',1497,1986,2097.5,60,so4YearlyTicks,so4YearlyMinor,so4YearNoeMeans,so4YearNnoeMeans,so4YearNoeErr,so4YearNnoeErr,so4YearNoePoints,so4YearNnoePoints);
yearly('soc',2142,2632,2743,25,socTicks,socMinor,socYearNoeMeans,socYearNnoeMeans,socYearNoeErr,socYearNnoeErr,socYearNoePoints,socYearNnoePoints);
</script>
</body>
</html>
